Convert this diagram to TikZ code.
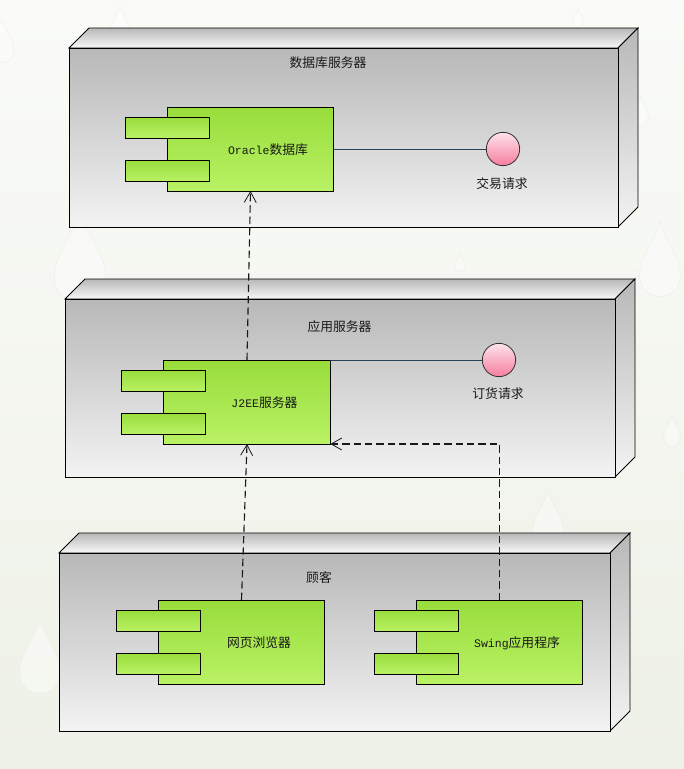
\documentclass[tikz,border=0pt]{standalone}
\usepackage{fontspec}
\setmainfont{Liberation Mono}
\newfontfamily\cjk{Noto Sans CJK SC}
\newfontfamily\lat{Liberation Mono}[Scale=0.9]
\usetikzlibrary{arrows.meta}
\definecolor{bgtop}{HTML}{FAFBF8}
\definecolor{bgbot}{HTML}{EEF1E7}
\definecolor{dropc}{HTML}{E3E9D9}
\definecolor{grayA}{HTML}{B8B8B8}
\definecolor{grayB}{HTML}{F3F3F3}
\definecolor{greenA}{HTML}{98DD3C}
\definecolor{greenB}{HTML}{B9F264}
\definecolor{pinkA}{HTML}{FDE3EA}
\definecolor{pinkB}{HTML}{F77D9E}
\definecolor{linkblue}{HTML}{3A5F7D}
\tikzset{
  x=0.75pt,y=-0.75pt,
  frontface/.style={draw=black,line width=0.65pt,top color=grayA,bottom color=grayB,middle color=grayA!50!grayB},
  topface/.style={draw=black,line width=0.65pt,top color=grayA,bottom color=grayB!50!white},
  sideface/.style={draw=black,line width=0.65pt,top color=grayA,bottom color=grayB},
  combody/.style={draw=black,line width=0.6pt,top color=greenA,bottom color=greenB,minimum width=125pt,minimum height=63pt,inner sep=0pt,outer sep=0pt},
  comtab/.style={draw=black,line width=0.6pt,top color=greenA,bottom color=greenB,minimum width=63pt,minimum height=15.75pt,inner sep=0pt,outer sep=0pt},
  iface/.style={circle,draw=black!80,line width=0.6pt,top color=pinkA,bottom color=pinkB,minimum size=25pt,inner sep=0pt,outer sep=0pt},
  labeltext/.style={font=\fontsize{9.6pt}{11pt}\selectfont,text=black!90,inner sep=0pt},
  dep/.style={draw=black!90,line width=0.85pt,dash pattern=on 5.5pt off 3pt,-{Straight Barb[length=8pt,width=9pt,line width=0.6pt]}},
  assoc/.style={draw=linkblue!70!black,line width=0.7pt},
  raindrop/.style={fill=white,fill opacity=0.4,draw=dropc,draw opacity=0.35,line width=0.6pt}
}
\newcommand{\devicebox}[8]{% x1 y1 x2 y2 name label lx ly
  \shade[topface] (#1,#2) -- (#1+20,#2-20) -- (#3+20,#2-20) -- (#3,#2) -- cycle;
  \shade[sideface] (#3,#2) -- (#3+20,#2-20) -- (#3+20,#4-20) -- (#3,#4) -- cycle;
  \shade[frontface] (#1,#2) rectangle (#3,#4);
  \node[labeltext] (#5) at (#7,#8) {\cjk #6};
}
\newcommand{\component}[4]{% name cx cy label
  \node[combody] (#1) at (#2,#3) {};
  \node[comtab] (#1t) at (#2-83.5,#3-21.5) {};
  \node[comtab] (#1b) at (#2-83.5,#3+21.5) {};
  \node[labeltext] (#1l) at (#2+17.5,#3+1) {#4};
}
\newcommand{\droplet}[3]{% x y scale
  \path[raindrop] (#1,#2-30*#3) .. controls (#1+6*#3,#2-10*#3) and (#1+17*#3,#2) .. (#1+17*#3,#2+14*#3)
    .. controls (#1+17*#3,#2+38*#3) and (#1-17*#3,#2+38*#3) .. (#1-17*#3,#2+14*#3)
    .. controls (#1-17*#3,#2) and (#1-6*#3,#2-10*#3) .. (#1,#2-30*#3) -- cycle;
}
\begin{document}
\begin{tikzpicture}
\useasboundingbox (0,0) rectangle (684,769);
\shade[top color=bgtop,bottom color=bgbot] (0,0) rectangle (684,769);
\droplet{80}{255}{1.5}
\droplet{120}{30}{0.8}
\droplet{2}{40}{0.7}
\droplet{660}{258}{1.2}
\droplet{548}{518}{0.9}
\droplet{40}{655}{1.2}
\droplet{672}{430}{0.5}
\droplet{578}{18}{0.3}
\droplet{460}{262}{0.3}
\droplet{640}{110}{0.5}

\devicebox{69}{48}{618}{227}{dbtitle}{数据库服务器}{328}{63}
\devicebox{65}{299}{615}{477}{apptitle}{应用服务器}{339.5}{327}
\devicebox{59}{553}{610}{731}{custitle}{顾客}{319}{578}

\component{oracle}{250.5}{149}{{\lat Oracle}{\cjk 数据库}}
\component{jee}{247}{402}{{\lat J2EE}{\cjk 服务器}}
\component{browser}{241.5}{642}{{\cjk 网页浏览器}}
\component{swing}{499.5}{642}{{\lat Swing}{\cjk 应用程序}}

\node[iface] (trade) at (503,149) {};
\node[labeltext] (tradel) at (502,184) {\cjk 交易请求};
\node[iface] (order) at (499,360) {};
\node[labeltext] (orderl) at (498,394) {\cjk 订货请求};

\draw[assoc] (oracle.east) -- (trade.west);
\draw[assoc] (jee.north east) -- (order.west);
\draw[dep] (jee.north) -- (oracle.south);
\draw[dep] (browser.north) -- (jee.south);
\draw[dep] (swing.north) |- (jee.south east);
\end{tikzpicture}
\end{document}
